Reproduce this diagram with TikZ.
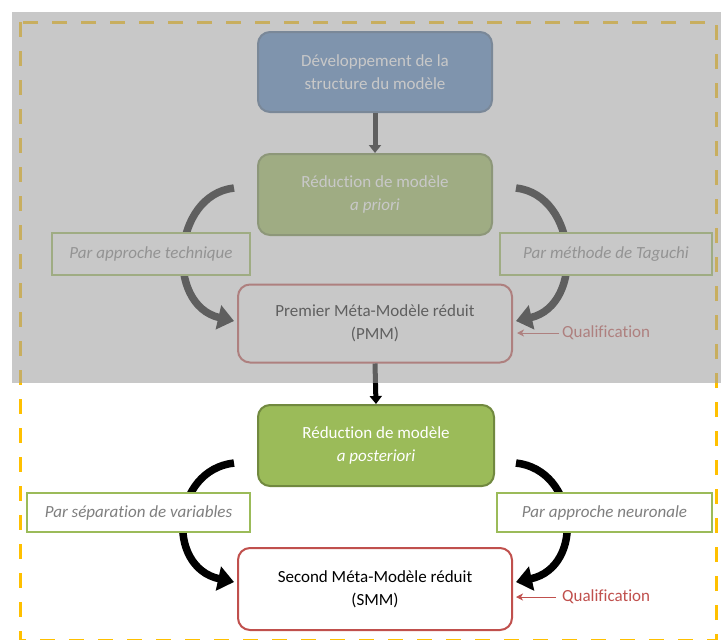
\documentclass[tikz,border=0pt]{standalone}
\usepackage{fontspec}
\setmainfont[Ligatures=NoCommon]{Carlito}
\usetikzlibrary{arrows.meta}
\definecolor{blueF}{HTML}{4F81BD}
\definecolor{blueD}{HTML}{41648C}
\definecolor{greenF}{HTML}{9BBB59}
\definecolor{greenD}{HTML}{71893F}
\definecolor{redD}{HTML}{C0504D}
\definecolor{labelT}{HTML}{7F7F7F}
\definecolor{goldD}{HTML}{FFC000}
\definecolor{veil}{RGB}{162,162,162}
\begin{document}
\begin{tikzpicture}[x=1pt,y=-1pt,
  mainbox/.style={rounded corners=12pt, line width=2pt, minimum width=234pt, minimum height=80pt,
    align=center, font=\fontsize{17}{23}\selectfont, text=white, inner sep=0pt},
  bluebox/.style={mainbox, fill=blueF, draw=blueD},
  greenbox/.style={mainbox, fill=greenF, draw=greenD},
  redbox/.style={mainbox, fill=white, draw=redD, text=black, minimum width=274pt, minimum height=78pt},
  labelbox/.style={draw=greenF, line width=2.5pt, fill=white, text=labelT,
    font=\fontsize{17}{20}\selectfont\itshape, minimum height=40pt, inner sep=0pt},
  qual/.style={text=redD, font=\fontsize{17}{20}\selectfont, anchor=west, inner sep=0pt},
  qarrow/.style={draw=redD, line width=1pt, -{Stealth[length=7pt,width=7pt,inset=2pt]}},
  downarrow/.style={draw=black, line width=5pt, -{Triangle[length=8pt,width=12pt]}},
  bigarrow/.style={draw=black, line width=7.5pt, -{Triangle[length=16pt,width=24pt]}}
]
\useasboundingbox (0,0) rectangle (721,640);
\fill[white] (0,0) rectangle (721,640);

% curved arrows (drawn first, label boxes cover them)
\coordinate (c1s) at (234,188);
\coordinate (c1e) at (234,321);
\coordinate (c2s) at (516,188);
\coordinate (c2e) at (516,321);
\coordinate (c3s) at (234,463);
\coordinate (c3e) at (234,582);
\coordinate (c4s) at (516,463);
\coordinate (c4e) at (516,582);
\draw[bigarrow] (c1s) .. controls (172,195) and (165,305) .. (c1e);
\draw[bigarrow] (c2s) .. controls (578,195) and (585,305) .. (c2e);
\draw[bigarrow] (c3s) .. controls (172,470) and (165,567) .. (c3e);
\draw[bigarrow] (c4s) .. controls (578,470) and (585,567) .. (c4e);

% main boxes
\node[bluebox] (dev) at (375,72) {Développement de la\\structure du modèle};
\node[greenbox, minimum height=81pt] (prio) at (375,194.5) {Réduction de modèle\\\textit{a priori}};
\node[redbox] (pmm) at (375,323.5) {Premier Méta-Modèle réduit\\(PMM)};
\node[greenbox, minimum width=236pt, minimum height=81pt] (post) at (376,445.5) {Réduction de modèle\\\textit{a posteriori}};
\node[redbox, minimum height=82pt] (smm) at (375,589) {Second Méta-Modèle réduit\\(SMM)};

% label boxes
\node[labelbox, minimum width=198pt, minimum height=42pt] (l1) at (151,254) {Par approche technique};
\node[labelbox, minimum width=212pt, minimum height=42pt] (l2) at (606,254) {Par méthode de Taguchi};
\node[labelbox, minimum width=223pt, minimum height=39pt] (l3) at (138.5,512.5) {Par séparation de variables};
\node[labelbox, minimum width=215pt, minimum height=39pt] (l4) at (604.5,512.5) {Par approche neuronale};

% straight arrows
\draw[downarrow] (dev.south) -- (prio.north);
\draw[downarrow] (pmm.south) -- (post.north);

% qualification
\node[qual] (q1) at (562,333) {Qualification};
\node[qual] (q2) at (562,597) {Qualification};
\draw[qarrow] ([xshift=-3pt]q1.west) -- ([xshift=4pt]pmm.east |- q1.west);
\draw[qarrow] ([xshift=-6pt]q2.west) -- ([xshift=3pt]smm.east |- q2.west);

% dashed frame
\draw[goldD, line width=3pt, dash pattern=on 15pt off 14pt] (20,22) rectangle (716,640);

% grey veil over upper part
\fill[veil, fill opacity=0.59] (12,12) rectangle (721,383);
\end{tikzpicture}
\end{document}
